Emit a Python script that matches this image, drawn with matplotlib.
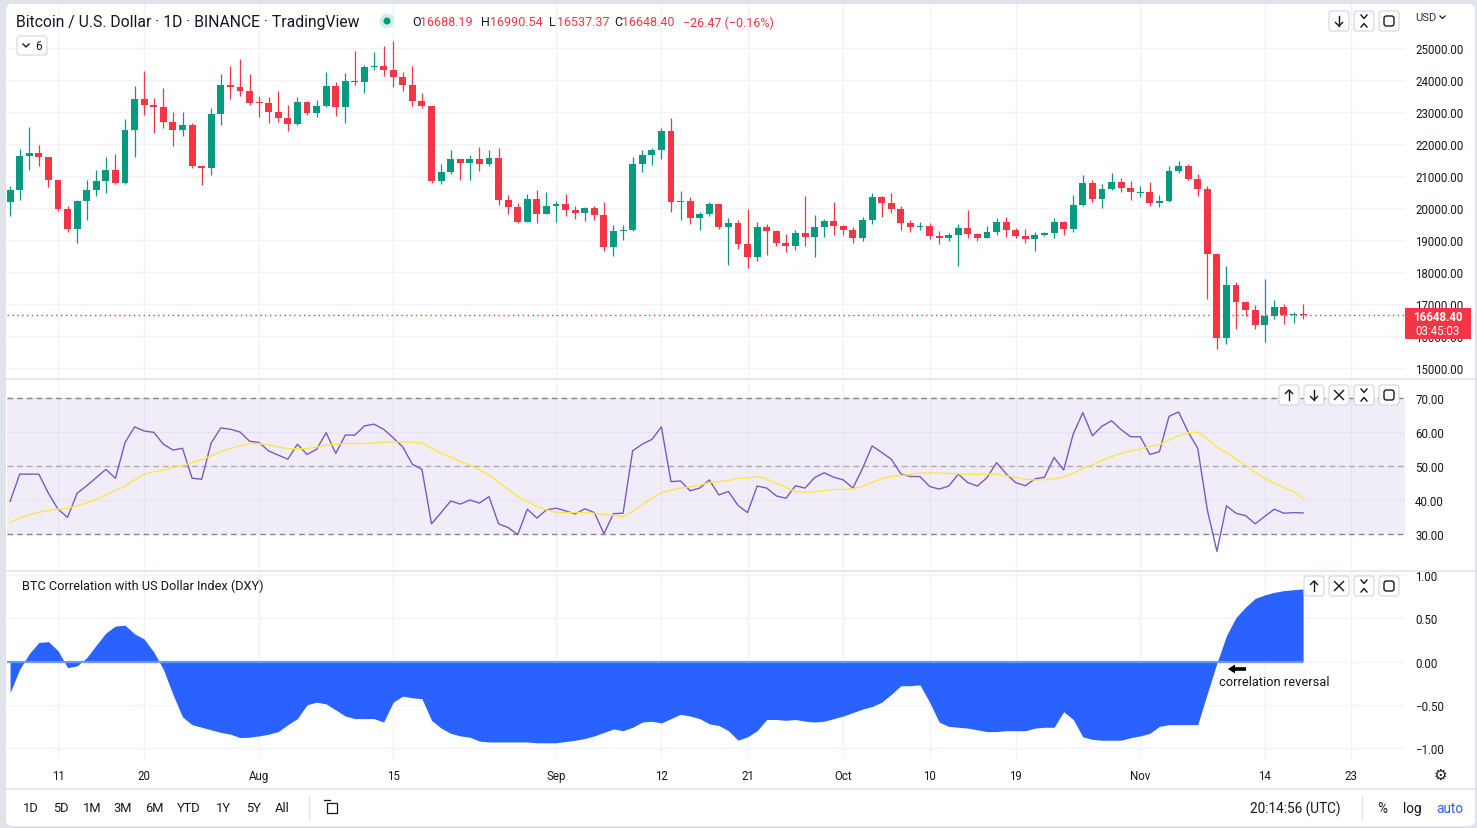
import numpy as np
import pandas as pd
import matplotlib
matplotlib.use("Agg")
import matplotlib.pyplot as plt
from matplotlib.transforms import Affine2D
from matplotlib.patches import FancyBboxPatch, Rectangle, Circle, Polygon
from matplotlib.lines import Line2D

plt.rcParams['font.family'] = ['Roboto', 'DejaVu Sans']

# ---- data: BTC / USD daily candles ----
dates = pd.date_range('2022-07-06', '2022-11-18', freq='D')

opens = [20190, 20548, 21637, 21731, 21592, 20860, 19970, 19329, 20212, 20573, 20836, 21190, 20780,
         22432, 23396, 23223, 23152, 22684, 22451, 22579, 21310, 21254, 22952, 23842, 23773, 23643,
         23296, 23268, 22987, 22818, 22622, 23312, 22954, 23175, 23810, 23149, 23954, 23935, 24403,
         24441, 24306, 24102, 23854, 23342, 23191, 20834, 21140, 21517, 21400, 21529, 21368, 21559,
         20241, 20037, 19555, 20285, 19811,
         20050, 20131, 19952, 19832, 20000, 19796, 18790, 19292, 19319, 21360, 21648, 21826, 22395,
         20173, 20227, 19701, 19803, 20113, 19416, 19538, 18876, 18461, 19401, 19289, 18920, 18807,
         19227, 19079, 19412, 19591,
         19422, 19312, 19057, 19629, 20337, 20158, 19960, 19530, 19417, 19439, 19131, 19060, 19155,
         19375, 19176, 19069, 19262, 19549, 19327, 19123, 19041, 19164, 19204, 19570, 19330, 20080,
         20771, 20295, 20591, 20809, 20627,
         20483, 20490, 20151, 20207, 21148, 21299, 20905, 20591, 18547, 15922, 17601, 17070, 16812,
         16329, 16619, 16900, 16662, 16688.19]
highs = [20675, 21838, 22527, 21955, 21607, 20880, 20050, 20250, 20880, 21200, 21588, 21684, 22777,
         23800, 24276, 23442, 23756, 22998, 23014, 22666, 21347, 23112, 24199, 24442, 24668, 24194,
         23509, 23459, 23647, 23223, 23472, 23354, 23369, 24245, 23933, 24226, 24918, 24456, 24888,
         25047, 25212, 24247, 24446, 23600, 23203, 21382, 21800, 21517, 21659, 21900, 21819, 21886,
         20402, 20148, 20433, 20575, 20490,
         20208, 20440, 20055, 20029, 20055, 20180, 19464, 19458, 21597, 21810, 21860, 22488, 22799,
         20541, 20330, 19890, 20189, 20113, 19690, 19634, 19956, 19550, 19500, 19316, 19180, 19316,
         20385, 19790, 19645, 20185,
         19484, 19395, 19719, 20475, 20365, 20456, 20058, 19627, 19560, 19525, 19268, 19220, 19513,
         19951, 19227, 19432, 19677, 19706, 19360, 19347, 19250, 19257, 19695, 19601, 20415, 21020,
         20872, 20750, 21085, 20931, 20845,
         20700, 20800, 20393, 21302, 21480, 21365, 21069, 20700, 18587, 18199, 17694, 17099, 16974,
         17780, 17134, 17015, 16751, 16990.54]
lows = [19757, 20237, 21189, 21322, 20652, 19903, 19240, 18910, 19616, 20382, 20480, 20750, 20750,
        21581, 22906, 22341, 22500, 21934, 22257, 21250, 20706, 21042, 22582, 23414, 23502, 23227,
        22850, 22654, 22681, 22400, 22586, 22909, 22842, 23154, 22865, 22664, 23852, 23580, 24300,
        24140, 23773, 23671, 23180, 23111, 20783, 20761, 21069, 20890, 20890, 21150, 21310, 20107,
        19800, 19520, 19550, 19540, 19797,
        19565, 19755, 19652, 19583, 19636, 18649, 18510, 19012, 19291, 21111, 21350, 21538, 19860,
        19617, 19497, 19320, 19748, 19335, 18232, 18711, 18125, 18356, 18531, 18817, 18630, 18680,
        18816, 18471, 19101, 19155,
        19159, 18920, 18959, 19490, 19730, 19854, 19320, 19255, 19320, 19020, 18860, 18965, 18190,
        19070, 18975, 19063, 19160, 19094, 19070, 18900, 18650, 19111, 19068, 19157, 19241, 20050,
        20200, 20000, 20552, 20510, 20237,
        20330, 20048, 20031, 20180, 21081, 20880, 20384, 17166, 15588, 15754, 16230, 16631, 16229,
        15815, 16527, 16378, 16410, 16537.37]
closes = [20548, 21637, 21731, 21592, 20860, 19970, 19329, 20212, 20573, 20836, 21190, 20780, 22432,
          23396, 23223, 23152, 22684, 22451, 22579, 21310, 21254, 22952, 23842, 23773, 23643, 23293,
          23268, 22987, 22818, 22622, 23312, 22954, 23175, 23810, 23149, 23954, 23935, 24403, 24441,
          24306, 24102, 23854, 23342, 23191, 20834, 21140, 21517, 21400, 21529, 21368, 21559, 20241,
          20037, 19555, 20285, 19811, 20050,
          20131, 19952, 19832, 20000, 19796, 18790, 19292, 19319, 21360, 21648, 21826, 22395, 20173,
          20227, 19701, 19803, 20113, 19416, 19538, 18876, 18461, 19401, 19289, 18920, 18807, 19227,
          19079, 19412, 19591, 19422,
          19310, 19056, 19629, 20337, 20158, 19960, 19530, 19417, 19439, 19131, 19060, 19155, 19375,
          19176, 19069, 19262, 19549, 19327, 19123, 19041, 19164, 19204, 19570, 19330, 20080, 20771,
          20295, 20591, 20809, 20627, 20490,
          20490, 20151, 20207, 21148, 21299, 20905, 20591, 18547, 15922, 17601, 17070, 16812, 16329,
          16619, 16900, 16662, 16674.87, 16648.40]

# RSI(14) and its moving average
rsi = [39.6, 47.6, 47.6, 47.6, 42.0, 37.3, 34.9, 42.0, 44.2, 46.6, 49.0, 46.4, 56.9, 61.5, 60.3,
       59.9, 56.4, 54.7, 55.2, 46.4, 46.1, 56.8, 61.2, 60.8, 60.0, 57.3, 56.9, 54.4, 53.2, 52.0,
       56.4, 53.4, 54.9, 59.8, 53.7, 59.1, 59.1, 61.8, 62.3, 60.8, 58.3, 55.6, 50.5, 49.0, 33.0,
       36.3, 39.7, 38.8, 40.0, 39.1, 41.0, 33.0, 31.9, 29.8, 37.3, 34.7, 37.1, 37.6, 36.8, 35.9,
       37.4, 36.3, 30.1, 36.0, 36.1, 54.5, 56.4, 57.8, 61.5, 45.4, 45.6, 42.7, 43.5, 45.9, 41.5,
       42.5, 38.4, 36.3, 44.1, 43.5, 41.2, 40.5, 44.2, 43.5, 46.6, 48.0, 46.7, 45.9, 43.5, 49.3,
       55.9, 54.0, 52.0, 47.7, 46.9, 46.9, 44.0, 43.2, 44.1, 47.6, 45.1, 44.1, 46.6, 51.0, 47.7,
       45.1, 44.2, 46.2, 46.7, 52.5, 48.8, 59.4, 65.7, 58.9, 61.7, 63.3, 60.7, 58.6, 58.6, 53.4,
       54.2, 64.6, 65.9, 60.0, 55.2, 37.1, 24.9, 38.3, 36.1, 35.4, 33.0, 35.2, 37.3, 36.1, 36.3,
       36.2]
rsi_ma = [33.4, 34.6, 35.7, 36.4, 36.9, 37.3, 37.6, 38.3, 39.1, 40.2, 41.5, 42.8, 44.0, 45.9, 47.6,
          48.3, 48.8, 49.5, 50.1, 51.0, 51.8, 53.0, 54.2, 55.1, 55.9, 56.6, 56.6, 56.1, 55.6, 55.1,
          55.1, 55.1, 55.6, 56.1, 56.4, 56.6, 56.6, 56.6, 56.8, 57.0, 57.1, 57.1, 57.0, 56.8, 55.2,
          53.7, 52.7, 51.3, 50.3, 48.8, 47.4, 45.2, 43.2, 41.0, 39.6, 38.1, 37.1, 36.4, 36.3, 36.3,
          36.3, 36.1, 35.7, 35.5, 35.1, 36.6, 38.6, 40.5, 42.2, 42.9, 43.5, 43.9, 44.4, 45.1, 45.4,
          45.7, 46.4, 46.4, 46.9, 46.2, 44.9, 43.7, 42.5, 42.3, 42.4, 42.8, 43.1, 43.1, 43.3, 44.0,
          45.1, 46.3, 46.9, 47.2, 47.5, 47.9, 48.0, 47.9, 47.8, 47.7, 47.6, 47.5, 47.6, 47.6, 47.2,
          46.6, 46.1, 45.9, 46.0, 46.3, 46.7, 47.9, 49.3, 50.3, 51.6, 52.7, 53.7, 54.4, 55.0, 55.7,
          56.3, 57.6, 58.9, 59.8, 59.9, 58.1, 55.5, 54.0, 52.0, 50.1, 48.1, 46.4, 44.9, 43.7, 42.5,
          40.5]

# BTC correlation with DXY
corr_dxy = [-0.36, -0.09, 0.09, 0.22, 0.23, 0.125, -0.07, -0.05, 0.045, 0.19, 0.33, 0.41, 0.42,
            0.32, 0.26, 0.11, -0.09, -0.38, -0.64, -0.73, -0.76, -0.79, -0.82, -0.84, -0.88,
            -0.875, -0.86, -0.84, -0.81, -0.73, -0.66, -0.50, -0.47, -0.49, -0.56, -0.63, -0.66,
            -0.66, -0.66, -0.70, -0.47, -0.40, -0.42, -0.43, -0.68, -0.77, -0.83, -0.86, -0.875,
            -0.92, -0.93, -0.93, -0.93, -0.93, -0.93, -0.94, -0.94, -0.94, -0.925, -0.91, -0.89,
            -0.86, -0.82, -0.78, -0.80, -0.76, -0.70, -0.69, -0.71, -0.66, -0.61, -0.63, -0.66,
            -0.72, -0.74, -0.80, -0.91, -0.87, -0.80, -0.67, -0.67, -0.68, -0.67, -0.69, -0.70,
            -0.69, -0.66, -0.63, -0.59, -0.55, -0.52, -0.47, -0.38, -0.28, -0.28, -0.27, -0.47,
            -0.70, -0.75, -0.76, -0.77, -0.79, -0.81, -0.81, -0.80, -0.80, -0.80, -0.77, -0.76,
            -0.76, -0.58, -0.67, -0.87, -0.90, -0.91, -0.91, -0.91, -0.88, -0.86, -0.83, -0.75,
            -0.73, -0.73, -0.73, -0.73, -0.37, -0.02, 0.30, 0.51, 0.63, 0.73, 0.77, 0.80, 0.82,
            0.83, 0.84]

price_ticks = list(range(15000, 25001, 1000))
rsi_ticks = [30, 40, 50, 60, 70]
corr_ticks = [-1.0, -0.5, 0.0, 0.5, 1.0]
tick_dates = ['2022-07-11', '2022-07-20', '2022-08-01', '2022-08-15', '2022-09-01', '2022-09-12',
              '2022-09-21', '2022-10-01', '2022-10-10', '2022-10-19', '2022-11-01', '2022-11-14',
              '2022-11-23']
tick_labels = ['11', '20', 'Aug', '15', 'Sep', '12', '21', 'Oct', '10', '19', 'Nov', '14', '23']

for arr in (opens, highs, lows, closes, rsi, rsi_ma, corr_dxy):
    assert len(arr) == len(dates), len(arr)

UP, DOWN = '#089981', '#F23645'
TEXT, GRID, BORDER = '#131722', '#F0F3FA', '#E0E3EB'

W, H = 1477, 829
fig = plt.figure(figsize=(W / 100, H / 100), dpi=100)
fig.patch.set_facecolor(BORDER)
px = Affine2D().scale(1 / W, -1 / H).translate(0, 1) + fig.transFigure  # top-left pixel coords

fig.add_artist(FancyBboxPatch((6, 5), 1469, 822, boxstyle='round,pad=0,rounding_size=6',
                              transform=px, fc='white', ec='none', zorder=-1))


def ax_at(x0, y0, x1, y1):
    return fig.add_axes([x0 / W, 1 - y1 / H, (x1 - x0) / W, (y1 - y0) / H])


x = np.arange(len(dates))
tick_idx = [(pd.Timestamp(d) - dates[0]).days for d in tick_dates]

ax_p = ax_at(7, 6, 1405, 378)
ax_r = ax_at(7, 381, 1405, 570)
ax_c = ax_at(7, 573, 1405, 760)

for ax in (ax_p, ax_r, ax_c):
    ax.set_facecolor('none')
    for s in ax.spines.values():
        s.set_visible(False)
    ax.set_xlim(-0.324, 145.64)
    ax.set_xticks(tick_idx)
    ax.yaxis.tick_right()
    ax.tick_params(axis='both', length=0, labelsize=8.3, labelcolor=TEXT)
    ax.tick_params(axis='y', pad=7.3)
    ax.tick_params(axis='x', labelbottom=False)
    ax.grid(True, color=GRID, lw=1)
    ax.set_axisbelow(True)

# ---- price pane ----
o, h, l, c = map(np.array, (opens, highs, lows, closes))
cols = np.where(c >= o, UP, DOWN)
ax_p.vlines(x, l, h, colors=cols, lw=0.9)
ax_p.bar(x, np.maximum(np.abs(c - o), 30), bottom=np.minimum(o, c), width=0.72, color=cols, lw=0)
ax_p.axhline(c[-1], color=DOWN, ls=(0, (1, 2.5)), lw=1)
ax_p.set_ylim(14718.75, 26343.75)
ax_p.set_yticks(price_ticks)
ax_p.set_yticklabels([f'{v:.2f}' for v in price_ticks])

# ---- RSI pane ----
ax_r.axhspan(30, 70, color='#7E57C2', alpha=0.1, lw=0)
for lvl, a in ((70, 0.9), (50, 0.55), (30, 0.9)):
    ax_r.axhline(lvl, color='#787B86', ls=(0, (4, 3)), lw=1, alpha=a)
ax_r.plot(x, rsi, color='#7E57C2', lw=1)
ax_r.plot(x, rsi_ma, color='#FDE64B', lw=1)
ax_r.set_ylim(19.71, 75.29)
ax_r.set_yticks(rsi_ticks)
ax_r.set_yticklabels([f'{v:.2f}' for v in rsi_ticks])

# ---- correlation pane ----
ax_c.fill_between(x, corr_dxy, 0, color='#2962FF', lw=0)
ax_c.hlines(0, x[0] - 0.33, x[-1], color='#6E96FF', lw=1.6)
ax_c.set_ylim(-1.127, 1.035)
ax_c.set_yticks(corr_ticks)
ax_c.set_yticklabels([f'{v:.2f}'.replace('-', '\u2212') for v in corr_ticks])
ax_c.tick_params(axis='x', labelbottom=True, pad=7.5)
ax_c.set_xticklabels(tick_labels)

fig.text(22, 586, 'BTC Correlation with US Dollar Index (DXY)', transform=px, fontsize=9.2,
         color=TEXT, va='center')
fig.text(1219, 683, 'correlation reversal', transform=px, fontsize=9.3, color=TEXT, va='center')
# bold left arrow next to the note
fig.add_artist(Line2D([1234, 1246], [670, 670], transform=px, color='black', lw=2.6,
                      solid_capstyle='butt'))
fig.add_artist(Polygon([(1228, 670), (1235, 665.5), (1235, 674.5)], closed=True, transform=px,
                       fc='black', ec='none'))

# ---- pane separators / frame lines ----
for yy in (379.5, 571.5, 790):
    fig.add_artist(Line2D([6, 1475], [yy, yy], transform=px, color=BORDER, lw=1.2))

# ---- header ----
fig.text(16, 23, 'Bitcoin / U.S. Dollar \u00b7 1D \u00b7 BINANCE \u00b7 TradingView', transform=px,
         fontsize=11.3, color=TEXT, va='center')
fig.add_artist(Circle((387, 22), 7.5, transform=px, fc='#D3EEE9', ec='none'))
fig.add_artist(Circle((387, 22), 3.5, transform=px, fc=UP, ec='none'))
chg = c[-1] - c[-2]
pct = chg / c[-2] * 100
pieces = [('O', 412, TEXT), (f'{o[-1]:.2f}', 420, DOWN), ('H', 481, TEXT), (f'{h[-1]:.2f}', 490, DOWN),
          ('L', 549, TEXT), (f'{l[-1]:.2f}', 557, DOWN), ('C', 614, TEXT), (f'{c[-1]:.2f}', 622, DOWN),
          (f'{chg:.2f} ({pct:.2f}%)'.replace('-', '\u2212'), 683, DOWN)]
for s, xx, col in pieces:
    fig.text(xx, 23, s, transform=px, fontsize=9, color=col, va='center')

# collapse badge
fig.add_artist(FancyBboxPatch((17, 37), 30, 19, boxstyle='round,pad=0,rounding_size=3', transform=px,
                              fc='white', ec='#D1D4DC', lw=0.8, zorder=6))
fig.add_artist(Line2D([23, 26, 29], [45, 48, 45], transform=px, color=TEXT, lw=1, zorder=7))
fig.text(39, 47, '6', transform=px, fontsize=8.5, color=TEXT, ha='center', va='center', zorder=7)

fig.text(1415, 18, 'USD', transform=px, fontsize=8, color='#2A2E39', va='center')
fig.add_artist(Line2D([1440, 1442.5, 1445], [17, 19.5, 17], transform=px, color=TEXT, lw=0.9))


def button(cx, cy, icon):
    fig.add_artist(FancyBboxPatch((cx - 10, cy - 10), 20, 20, boxstyle='round,pad=0,rounding_size=3',
                                  transform=px, fc='white', ec='#D1D4DC', lw=0.8, zorder=6))
    kw = dict(transform=px, color=TEXT, lw=1, zorder=7)
    if icon == 'down':
        fig.add_artist(Line2D([cx, cx], [cy - 5, cy + 5], **kw))
        fig.add_artist(Line2D([cx - 3.5, cx, cx + 3.5], [cy + 1.5, cy + 5, cy + 1.5], **kw))
    elif icon == 'up':
        fig.add_artist(Line2D([cx, cx], [cy + 5, cy - 5], **kw))
        fig.add_artist(Line2D([cx - 3.5, cx, cx + 3.5], [cy - 1.5, cy - 5, cy - 1.5], **kw))
    elif icon == 'close':
        fig.add_artist(Line2D([cx - 4.5, cx + 4.5], [cy - 4.5, cy + 4.5], **kw))
        fig.add_artist(Line2D([cx - 4.5, cx + 4.5], [cy + 4.5, cy - 4.5], **kw))
    elif icon == 'collapse':
        fig.add_artist(Line2D([cx - 3, cx, cx + 3], [cy - 6, cy - 2.5, cy - 6], **kw))
        fig.add_artist(Line2D([cx - 3, cx, cx + 3], [cy + 6, cy + 2.5, cy + 6], **kw))
    elif icon == 'max':
        fig.add_artist(FancyBboxPatch((cx - 5, cy - 5), 10, 10, boxstyle='round,pad=0,rounding_size=2.5',
                                      transform=px, fc='none', ec=TEXT, lw=1, zorder=7))


for cx, ic in ((1339, 'down'), (1364, 'collapse'), (1389, 'max')):
    button(cx, 22, ic)
for cx, ic in ((1289, 'up'), (1314, 'down'), (1339, 'close'), (1364, 'collapse'), (1389, 'max')):
    button(cx, 396, ic)
for cx, ic in ((1314, 'up'), (1339, 'close'), (1364, 'collapse'), (1389, 'max')):
    button(cx, 587, ic)

# last price tag
fig.add_artist(Rectangle((1405, 309), 66, 31, transform=px, fc=DOWN, ec='none', zorder=6))
fig.text(1438, 317.5, f'{c[-1]:.2f}', transform=px, fontsize=8.3, color='white', weight='bold',
         ha='center', va='center', zorder=7)
fig.text(1438, 331.5, '03:45:03', transform=px, fontsize=8.3, color='white', ha='center',
         va='center', zorder=7)

# time axis gear
fig.text(1440, 775, '\u2699', transform=px, fontsize=11, color=TEXT, ha='center', va='center',
         family='DejaVu Sans')

# ---- bottom toolbar ----
for s, xx in (('1D', 31), ('5D', 61), ('1M', 92), ('3M', 123), ('6M', 154), ('YTD', 189),
              ('1Y', 223), ('5Y', 253), ('All', 282)):
    fig.text(xx, 809, s, transform=px, fontsize=9.3, color=TEXT, ha='center', va='center')
for xs in (309, 1362):
    fig.add_artist(Line2D([xs, xs], [797, 821], transform=px, color=BORDER, lw=1))
fig.add_artist(Rectangle((327, 804), 10, 10, transform=px, fc='none', ec=TEXT, lw=0.9))
fig.add_artist(Line2D([324, 330], [801, 801], transform=px, color=TEXT, lw=0.9))
fig.text(1295, 809, '20:14:56 (UTC)', transform=px, fontsize=9.8, color=TEXT, ha='center', va='center')
fig.text(1382, 809, '%', transform=px, fontsize=9.8, color=TEXT, ha='center', va='center')
fig.text(1412, 809, 'log', transform=px, fontsize=9.8, color=TEXT, ha='center', va='center')
fig.text(1450, 809, 'auto', transform=px, fontsize=9.8, color='#2962FF', ha='center', va='center')

fig.savefig('out.png', dpi=100, facecolor=fig.get_facecolor())
